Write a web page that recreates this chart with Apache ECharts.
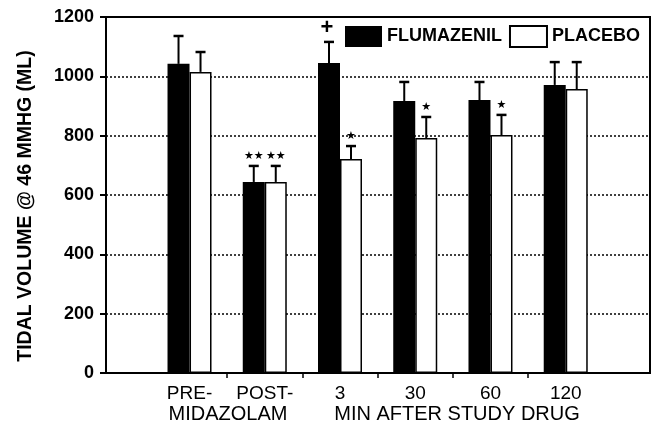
<!DOCTYPE html>
<html>
<head>
<meta charset="utf-8">
<script src="https://cdn.jsdelivr.net/npm/echarts@6/dist/echarts.min.js"></script>
<style>
  html, body { margin: 0; padding: 0; background: #fff; }
  #chart { width: 652px; height: 425px; }
</style>
</head>
<body>
<div id="chart"></div>
<script>
// x positions of the groups (0 = PRE-)
const groups = [0, 1, 2, 3, 4, 5];
const groupLabels = ['PRE-', 'POST-', '3', '30', '60', '120'];
const flumazenil = [1042, 644, 1045, 917, 920, 971];
const flumazenilErr = [1136, 698, 1116, 981, 981, 1048];
const placebo = [1015, 644, 721, 792, 802, 957];
const placeboErr = [1082, 698, 765, 863, 870, 1048];
const flumazenilMarks = ['', '**', '+', '', '', ''];
const placeboMarks = ['', '**', '*', '*', '*', ''];

const FONT = "'Liberation Sans', Arial, Helvetica, sans-serif";
const BAR_W = 22;

const chart = echarts.init(document.getElementById('chart'), null, { renderer: 'canvas' });

const errSeries = (name, vals, errs, marks, offset) => ({
  type: 'custom',
  name: name + '-err',
  z: 5,
  silent: true,
  data: groups.map((g, i) => [g, vals[i], errs[i], i]),
  renderItem: (params, api) => {
    const base = api.coord([api.value(0), api.value(1)]);
    const top = api.coord([api.value(0), api.value(2)]);
    const cx = base[0] + offset;
    const mark = marks[api.value(3)];
    const children = [
      { type: 'line', shape: { x1: cx, y1: base[1], x2: cx, y2: top[1] }, style: { stroke: '#000', lineWidth: 2 } },
      { type: 'line', shape: { x1: cx - 5, y1: top[1], x2: cx + 5, y2: top[1] }, style: { stroke: '#000', lineWidth: 2.5 } }
    ];
    if (mark) {
      const isPlus = mark === '+';
      children.push({
        type: 'text',
        style: {
          x: isPlus ? cx - 2 : cx, y: top[1] - (isPlus ? 3 : 4),
          text: isPlus ? '+' : mark.replace(/\*/g, '\u2605'),
          align: 'center', verticalAlign: 'bottom',
          font: isPlus ? "bold 22px " + FONT : "11px 'DejaVu Sans'",
          fill: '#000'
        }
      });
    }
    return { type: 'group', children: children };
  }
});

chart.setOption({
  animation: false,
  backgroundColor: '#fff',
  grid: { left: 106, right: 2, top: 17, bottom: 52, show: true, borderColor: '#000', borderWidth: 2, backgroundColor: 'transparent' },
  legend: {
    left: 345, top: 25, padding: 0,
    itemWidth: 37, itemHeight: 21, itemGap: 7,
    icon: 'rect',
    data: ['FLUMAZENIL', 'PLACEBO'],
    textStyle: { fontFamily: FONT, fontWeight: 'bold', fontSize: 18, color: '#000' }
  },
  xAxis: {
    type: 'value',
    min: -1.11,
    max: 6.12,
    axisLine: { show: true, onZero: false, lineStyle: { color: '#000', width: 2 } },
    axisTick: { show: true, customValues: [0.5, 1.5, 2.5, 3.5, 4.5], length: 5, lineStyle: { color: '#000', width: 1.5 } },
    axisLabel: {
      customValues: groups,
      formatter: (v) => groupLabels[Math.round(v)],
      margin: 11,
      fontFamily: FONT, fontSize: 19, color: '#000'
    },
    splitLine: { show: false }
  },
  yAxis: {
    type: 'value',
    min: 0, max: 1200, interval: 200,
    name: 'TIDAL VOLUME @ 46 MMHG (ML)',
    nameLocation: 'middle',
    nameGap: 70,
    nameTextStyle: { fontFamily: FONT, fontWeight: 'bold', fontSize: 19.5, color: '#000', padding: [0, 22, 0, 0] },
    axisLine: { show: true, onZero: false, lineStyle: { color: '#000', width: 2 } },
    axisTick: { show: true, inside: false, length: 6, lineStyle: { color: '#000', width: 2 } },
    axisLabel: { margin: 12, fontFamily: FONT, fontWeight: 'bold', fontSize: 18, color: '#000',
      formatter: (v) => String(v) },
    splitLine: { show: true, lineStyle: { color: '#000', type: [2, 2], width: 1.5 } }
  },
  graphic: [
    { type: 'text', x: 228, y: 404, style: { text: 'MIDAZOLAM', font: "20px " + FONT, fill: '#000', align: 'center', verticalAlign: 'top' } },
    { type: 'text', x: 457, y: 404, style: { text: 'MIN AFTER STUDY DRUG', font: "20px " + FONT, fill: '#000', align: 'center', verticalAlign: 'top' } }
  ],
  series: [
    {
      name: 'FLUMAZENIL', type: 'bar', barWidth: BAR_W, barGap: '0%',
      itemStyle: { color: '#000' },
      data: groups.map((g, i) => [g, flumazenil[i]])
    },
    {
      name: 'PLACEBO', type: 'bar', barWidth: BAR_W, barGap: '0%',
      itemStyle: { color: '#fff', borderColor: '#000', borderWidth: 1.5 },
      data: groups.map((g, i) => [g, placebo[i]])
    },
    errSeries('FLUMAZENIL', flumazenil, flumazenilErr, flumazenilMarks, -BAR_W / 2),
    errSeries('PLACEBO', placebo, placeboErr, placeboMarks, BAR_W / 2)
  ]
});
</script>
</body>
</html>
